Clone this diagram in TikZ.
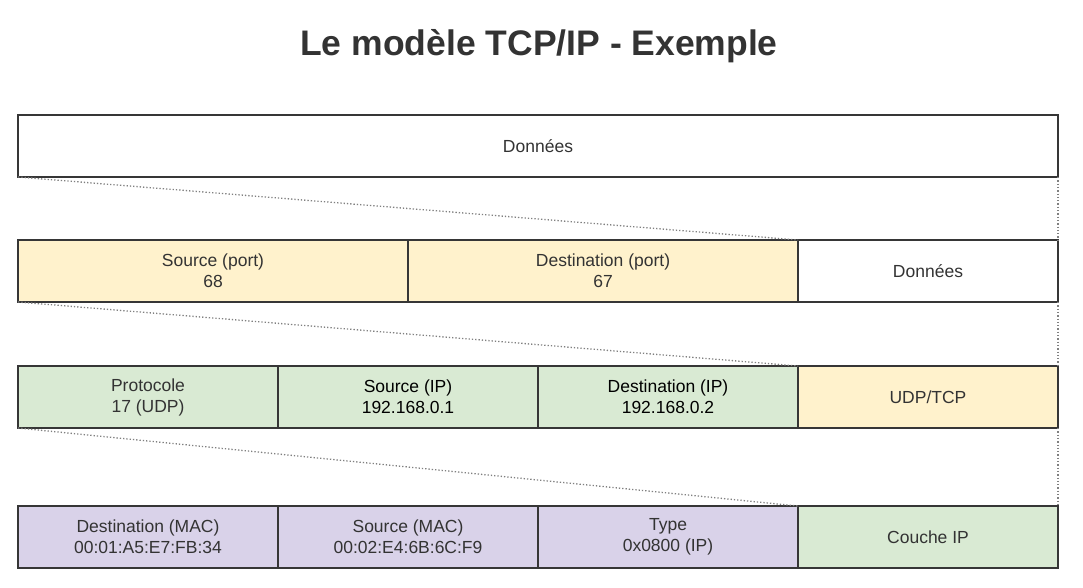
\documentclass[tikz,border=0pt]{standalone}
\usepackage{fontspec}
\setmainfont{Liberation Sans}
\usetikzlibrary{positioning}
\definecolor{TxtGray}{HTML}{333333}
\definecolor{EdgeGray}{HTML}{363636}
\definecolor{PortYellow}{HTML}{FFF2CC}
\definecolor{IpGreen}{HTML}{D9EAD3}
\definecolor{MacPurple}{HTML}{D9D2E9}

\begin{document}
\begin{tikzpicture}[x=1pt, y=-1pt, font=\fontsize{17.5}{21}\selectfont]
          \tikzset{
            cell/.style={draw=EdgeGray, line width=1.4pt, outer sep=0pt, inner sep=2pt,
              minimum height=62pt, text=TxtGray, align=center, anchor=north west},
            wide/.style={cell, minimum width=1040pt},
            half/.style={cell, minimum width=390pt},
            third/.style={cell, minimum width=260pt},
            link/.style={dotted, line width=1.3pt, draw=black!50}
          }
          \useasboundingbox (0,0) rectangle (1083,588);
          \node[font=\fontsize{35.5}{40}\selectfont\bfseries, text=TxtGray] (title) at (539,46) {Le modèle TCP/IP - Exemple};
          % application
          \node[wide, fill=white] (app) at (18,115) {Données};
          % transport
          \node[half, fill=PortYellow] (srcport) at (18,240) {Source (port)\\68};
          \node[half, fill=PortYellow, right=0pt of srcport] (dstport) {Destination (port)\\67};
          \node[third, fill=white, right=0pt of dstport] (tdata) {Données};
          % internet
          \node[third, fill=IpGreen] (proto) at (18,366) {Protocole\\17 (UDP)};
          \node[third, fill=IpGreen, text=black, right=0pt of proto] (srcip) {Source (IP)\\192.168.0.1};
          \node[third, fill=IpGreen, text=black, right=0pt of srcip] (dstip) {Destination (IP)\\192.168.0.2};
          \node[third, fill=PortYellow, right=0pt of dstip] (udptcp) {UDP/TCP};
          % network access
          \node[third, fill=MacPurple] (dstmac) at (18,506) {Destination (MAC)\\00:01:A5:E7:FB:34};
          \node[third, fill=MacPurple, right=0pt of dstmac] (srcmac) {Source (MAC)\\00:02:E4:6B:6C:F9};
          \node[third, fill=MacPurple, right=0pt of srcmac] (ethtype) {Type\\0x0800 (IP)};
          \node[third, fill=IpGreen, right=0pt of ethtype] (ipcouche) {Couche IP};
          \draw[link] (app.south west) -- (dstport.north east);
          \draw[link] (app.south east) -- (tdata.north east);
          \draw[link] (srcport.south west) -- (dstip.north east);
          \draw[link] (tdata.south east) -- (udptcp.north east);
          \draw[link] (proto.south west) -- (ethtype.north east);
          \draw[link] (udptcp.south east) -- (ipcouche.north east);
        \end{tikzpicture}
\end{document}
